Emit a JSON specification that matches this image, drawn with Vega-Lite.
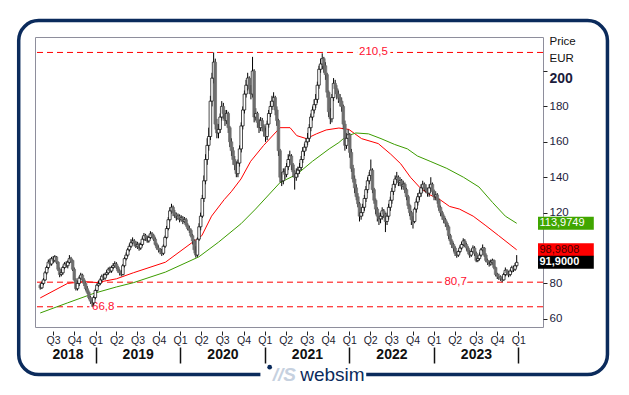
{
"$schema":"https://vega.github.io/schema/vega-lite/v6.json",
"width":508,"height":290,
"autosize":{"type":"none"},
"padding":{"left":35,"top":37,"right":86,"bottom":68},
"background":"white",
"config":{"view":{"stroke":"#8e8e9c","strokeWidth":1},"font":"Liberation Sans"},
"datasets":{
"k":[
{"d":"2018-05-07","o":79,"h":80,"l":76.5,"c":77.5},
{"d":"2018-05-14","o":77.5,"h":81,"l":76.8,"c":80},
{"d":"2018-05-21","o":80,"h":83,"l":79,"c":82},
{"d":"2018-05-28","o":82,"h":87,"l":81.5,"c":86},
{"d":"2018-06-04","o":86,"h":90,"l":85,"c":89},
{"d":"2018-06-11","o":89,"h":93.5,"l":88,"c":92},
{"d":"2018-06-18","o":92,"h":94,"l":90,"c":91},
{"d":"2018-06-25","o":91,"h":95,"l":90,"c":94},
{"d":"2018-07-02","o":94,"h":95.5,"l":91.5,"c":93},
{"d":"2018-07-09","o":93,"h":96,"l":92,"c":95},
{"d":"2018-07-16","o":95,"h":95.5,"l":91,"c":92},
{"d":"2018-07-23","o":92,"h":92.5,"l":87,"c":88},
{"d":"2018-07-30","o":88,"h":89,"l":83.5,"c":85},
{"d":"2018-08-06","o":85,"h":88,"l":84,"c":86},
{"d":"2018-08-13","o":86,"h":90,"l":85,"c":89},
{"d":"2018-08-20","o":89,"h":92,"l":88,"c":91},
{"d":"2018-08-27","o":91,"h":92.5,"l":89,"c":90},
{"d":"2018-09-03","o":90,"h":93,"l":88.5,"c":92},
{"d":"2018-09-10","o":92,"h":96,"l":91,"c":94},
{"d":"2018-09-17","o":94,"h":95,"l":91.5,"c":93},
{"d":"2018-09-24","o":93,"h":93.5,"l":87,"c":88},
{"d":"2018-10-01","o":88,"h":89,"l":81,"c":82},
{"d":"2018-10-08","o":82,"h":83,"l":76,"c":77},
{"d":"2018-10-15","o":77,"h":81.5,"l":76,"c":80},
{"d":"2018-10-22","o":80,"h":84,"l":78.5,"c":83},
{"d":"2018-10-29","o":83,"h":86,"l":82,"c":84.7},
{"d":"2018-11-05","o":84.7,"h":85.5,"l":81,"c":82},
{"d":"2018-11-12","o":82,"h":83,"l":78.5,"c":80},
{"d":"2018-11-19","o":80,"h":81,"l":76,"c":77},
{"d":"2018-11-26","o":77,"h":78.5,"l":74,"c":75},
{"d":"2018-12-03","o":75,"h":76,"l":71,"c":72},
{"d":"2018-12-10","o":72,"h":73,"l":68.5,"c":70},
{"d":"2018-12-17","o":70,"h":71,"l":66.8,"c":69},
{"d":"2018-12-24","o":69,"h":73,"l":67.5,"c":72},
{"d":"2018-12-31","o":72,"h":77,"l":71,"c":76},
{"d":"2019-01-07","o":76,"h":80,"l":75,"c":79},
{"d":"2019-01-14","o":79,"h":81.5,"l":78,"c":80},
{"d":"2019-01-21","o":80,"h":83,"l":79,"c":82},
{"d":"2019-01-28","o":82,"h":85,"l":81,"c":84},
{"d":"2019-02-04","o":84,"h":85.5,"l":82,"c":83},
{"d":"2019-02-11","o":83,"h":86,"l":82,"c":85},
{"d":"2019-02-18","o":85,"h":87.5,"l":84,"c":86},
{"d":"2019-02-25","o":86,"h":89,"l":85,"c":88},
{"d":"2019-03-04","o":88,"h":89.5,"l":86,"c":87},
{"d":"2019-03-11","o":87,"h":90,"l":86,"c":89},
{"d":"2019-03-18","o":89,"h":91.5,"l":88,"c":90},
{"d":"2019-03-25","o":90,"h":92.5,"l":89,"c":91},
{"d":"2019-04-01","o":91,"h":92,"l":88,"c":89},
{"d":"2019-04-08","o":89,"h":90,"l":86,"c":87},
{"d":"2019-04-15","o":87,"h":88,"l":84.5,"c":86},
{"d":"2019-04-22","o":86,"h":87.5,"l":84,"c":85},
{"d":"2019-04-29","o":85,"h":91,"l":84.5,"c":90},
{"d":"2019-05-06","o":90,"h":95,"l":89,"c":94},
{"d":"2019-05-13","o":94,"h":97.5,"l":93,"c":96},
{"d":"2019-05-20","o":96,"h":100,"l":95,"c":99},
{"d":"2019-05-27","o":99,"h":102.5,"l":98,"c":101},
{"d":"2019-06-03","o":101,"h":105,"l":100,"c":103},
{"d":"2019-06-10","o":103,"h":106,"l":102,"c":104},
{"d":"2019-06-17","o":104,"h":105,"l":101,"c":103},
{"d":"2019-06-24","o":103,"h":104,"l":100,"c":101},
{"d":"2019-07-01","o":101,"h":103.5,"l":99.5,"c":102},
{"d":"2019-07-08","o":102,"h":103,"l":98.5,"c":100},
{"d":"2019-07-15","o":100,"h":103,"l":99,"c":102},
{"d":"2019-07-22","o":102,"h":106.5,"l":101,"c":105},
{"d":"2019-07-29","o":105,"h":108.5,"l":104,"c":107},
{"d":"2019-08-05","o":107,"h":108,"l":104,"c":106},
{"d":"2019-08-12","o":106,"h":107,"l":103,"c":104},
{"d":"2019-08-19","o":104,"h":107,"l":103,"c":106},
{"d":"2019-08-26","o":106,"h":109.5,"l":105,"c":108},
{"d":"2019-09-02","o":108,"h":109,"l":105.5,"c":107},
{"d":"2019-09-09","o":107,"h":108,"l":104,"c":105},
{"d":"2019-09-16","o":105,"h":106,"l":101,"c":102},
{"d":"2019-09-23","o":102,"h":103,"l":99,"c":100},
{"d":"2019-09-30","o":100,"h":101.5,"l":97.5,"c":99},
{"d":"2019-10-07","o":99,"h":100,"l":96.5,"c":98},
{"d":"2019-10-14","o":98,"h":99.5,"l":95.5,"c":97},
{"d":"2019-10-21","o":97,"h":102,"l":96,"c":101},
{"d":"2019-10-28","o":101,"h":107,"l":100,"c":106},
{"d":"2019-11-04","o":106,"h":112.5,"l":105,"c":111},
{"d":"2019-11-11","o":111,"h":117.5,"l":110,"c":116},
{"d":"2019-11-18","o":116,"h":123,"l":115,"c":121},
{"d":"2019-11-25","o":121,"h":125,"l":119.5,"c":123},
{"d":"2019-12-02","o":123,"h":124,"l":118,"c":120},
{"d":"2019-12-09","o":120,"h":121.5,"l":117,"c":119},
{"d":"2019-12-16","o":119,"h":120,"l":115.5,"c":117},
{"d":"2019-12-23","o":117,"h":119.5,"l":116,"c":118},
{"d":"2019-12-30","o":118,"h":119,"l":114.5,"c":116},
{"d":"2020-01-06","o":116,"h":118.5,"l":115,"c":117},
{"d":"2020-01-13","o":117,"h":118,"l":113.5,"c":115},
{"d":"2020-01-20","o":115,"h":117.5,"l":114,"c":116},
{"d":"2020-01-27","o":116,"h":117,"l":112,"c":113},
{"d":"2020-02-03","o":113,"h":114,"l":110,"c":111},
{"d":"2020-02-10","o":111,"h":112.5,"l":108.5,"c":110},
{"d":"2020-02-17","o":110,"h":111,"l":106,"c":107},
{"d":"2020-02-24","o":107,"h":108,"l":102,"c":104},
{"d":"2020-03-02","o":104,"h":105,"l":97,"c":99},
{"d":"2020-03-09","o":99,"h":101,"l":94.6,"c":96},
{"d":"2020-03-16","o":96,"h":106,"l":95,"c":105},
{"d":"2020-03-23","o":105,"h":114,"l":104,"c":112},
{"d":"2020-03-30","o":112,"h":120,"l":110,"c":118},
{"d":"2020-04-06","o":118,"h":130,"l":117,"c":128},
{"d":"2020-04-13","o":128,"h":141,"l":126,"c":138},
{"d":"2020-04-20","o":138,"h":153,"l":136,"c":150},
{"d":"2020-04-27","o":150,"h":162,"l":147,"c":158},
{"d":"2020-05-04","o":158,"h":168,"l":155,"c":163},
{"d":"2020-05-11","o":163,"h":186,"l":161,"c":183},
{"d":"2020-05-18","o":183,"h":199,"l":180,"c":196},
{"d":"2020-05-25","o":196,"h":210.5,"l":193,"c":205},
{"d":"2020-06-01","o":205,"h":207,"l":167,"c":170},
{"d":"2020-06-08","o":170,"h":173,"l":162,"c":165},
{"d":"2020-06-15","o":165,"h":170,"l":162,"c":167},
{"d":"2020-06-22","o":167,"h":176,"l":165,"c":174},
{"d":"2020-06-29","o":174,"h":183,"l":172,"c":180},
{"d":"2020-07-06","o":180,"h":182,"l":173,"c":176},
{"d":"2020-07-13","o":176,"h":178,"l":169,"c":172},
{"d":"2020-07-20","o":172,"h":178,"l":170,"c":176},
{"d":"2020-07-27","o":176,"h":177,"l":165,"c":168},
{"d":"2020-08-03","o":168,"h":169,"l":157,"c":160},
{"d":"2020-08-10","o":160,"h":162,"l":152,"c":155},
{"d":"2020-08-17","o":155,"h":157,"l":147,"c":150},
{"d":"2020-08-24","o":150,"h":152,"l":144,"c":147},
{"d":"2020-08-31","o":147,"h":149,"l":140,"c":142},
{"d":"2020-09-07","o":142,"h":150,"l":140,"c":148},
{"d":"2020-09-14","o":148,"h":158,"l":146,"c":156},
{"d":"2020-09-21","o":156,"h":171,"l":154,"c":169},
{"d":"2020-09-28","o":169,"h":180,"l":167,"c":178},
{"d":"2020-10-05","o":178,"h":189,"l":176,"c":187},
{"d":"2020-10-12","o":187,"h":195,"l":185,"c":192},
{"d":"2020-10-19","o":192,"h":199,"l":189,"c":196},
{"d":"2020-10-26","o":196,"h":197,"l":187,"c":190},
{"d":"2020-11-02","o":190,"h":192,"l":184,"c":187},
{"d":"2020-11-09","o":187,"h":208,"l":185,"c":200},
{"d":"2020-11-16","o":200,"h":201,"l":171,"c":174},
{"d":"2020-11-23","o":174,"h":179,"l":172,"c":176},
{"d":"2020-11-30","o":176,"h":177,"l":168,"c":171},
{"d":"2020-12-07","o":171,"h":173,"l":165,"c":168},
{"d":"2020-12-14","o":168,"h":174,"l":166,"c":172},
{"d":"2020-12-21","o":172,"h":173.5,"l":166,"c":169},
{"d":"2020-12-28","o":169,"h":170,"l":163,"c":166},
{"d":"2021-01-04","o":166,"h":168,"l":160,"c":163},
{"d":"2021-01-11","o":163,"h":172,"l":161,"c":170},
{"d":"2021-01-18","o":170,"h":178,"l":168,"c":176},
{"d":"2021-01-25","o":176,"h":183,"l":174,"c":180},
{"d":"2021-02-01","o":180,"h":186,"l":178,"c":183},
{"d":"2021-02-08","o":183,"h":188,"l":180,"c":185},
{"d":"2021-02-15","o":185,"h":186,"l":175,"c":178},
{"d":"2021-02-22","o":178,"h":180,"l":169,"c":172},
{"d":"2021-03-01","o":172,"h":173,"l":152,"c":155},
{"d":"2021-03-08","o":155,"h":156,"l":137,"c":140},
{"d":"2021-03-15","o":140,"h":143,"l":135,"c":138},
{"d":"2021-03-22","o":138,"h":145,"l":136,"c":143},
{"d":"2021-03-29","o":143,"h":145,"l":139,"c":141.6},
{"d":"2021-04-05","o":141.6,"h":148,"l":140,"c":146},
{"d":"2021-04-12","o":146,"h":153,"l":144,"c":150},
{"d":"2021-04-19","o":150,"h":155,"l":148,"c":152},
{"d":"2021-04-26","o":152,"h":153,"l":144,"c":147},
{"d":"2021-05-03","o":147,"h":148,"l":140,"c":143},
{"d":"2021-05-10","o":143,"h":144,"l":133,"c":140},
{"d":"2021-05-17","o":140,"h":145,"l":138,"c":142},
{"d":"2021-05-24","o":142,"h":146,"l":140,"c":144},
{"d":"2021-05-31","o":144,"h":148,"l":142,"c":145.5},
{"d":"2021-06-07","o":145.5,"h":152,"l":144,"c":150},
{"d":"2021-06-14","o":150,"h":157,"l":148,"c":154.7},
{"d":"2021-06-21","o":154.7,"h":159,"l":152,"c":157},
{"d":"2021-06-28","o":157,"h":162,"l":155,"c":160},
{"d":"2021-07-05","o":160,"h":165,"l":158,"c":162},
{"d":"2021-07-12","o":162,"h":170,"l":160,"c":168},
{"d":"2021-07-19","o":168,"h":176,"l":166,"c":174},
{"d":"2021-07-26","o":174,"h":180,"l":172,"c":178},
{"d":"2021-08-02","o":178,"h":184,"l":176,"c":181},
{"d":"2021-08-09","o":181,"h":187,"l":179,"c":184},
{"d":"2021-08-16","o":184,"h":194,"l":182,"c":192},
{"d":"2021-08-23","o":192,"h":203,"l":190,"c":201},
{"d":"2021-08-30","o":201,"h":207,"l":199,"c":204},
{"d":"2021-09-06","o":204,"h":210,"l":201,"c":207},
{"d":"2021-09-13","o":207,"h":208,"l":199,"c":203},
{"d":"2021-09-20","o":203,"h":205,"l":195,"c":198},
{"d":"2021-09-27","o":198,"h":199,"l":185,"c":188},
{"d":"2021-10-04","o":188,"h":189,"l":174,"c":177},
{"d":"2021-10-11","o":177,"h":179,"l":170,"c":173},
{"d":"2021-10-18","o":173,"h":187,"l":171,"c":185},
{"d":"2021-10-25","o":185,"h":196,"l":183,"c":193},
{"d":"2021-11-01","o":193,"h":195,"l":187,"c":190},
{"d":"2021-11-08","o":190,"h":192,"l":184,"c":187},
{"d":"2021-11-15","o":187,"h":189,"l":182,"c":185},
{"d":"2021-11-22","o":185,"h":187,"l":180,"c":183},
{"d":"2021-11-29","o":183,"h":185,"l":177,"c":180},
{"d":"2021-12-06","o":180,"h":181,"l":167,"c":170},
{"d":"2021-12-13","o":170,"h":172,"l":155,"c":158},
{"d":"2021-12-20","o":158,"h":165,"l":156,"c":162},
{"d":"2021-12-27","o":162,"h":167,"l":160,"c":164},
{"d":"2022-01-03","o":164,"h":165,"l":151,"c":154},
{"d":"2022-01-10","o":154,"h":156,"l":143,"c":145},
{"d":"2022-01-17","o":145,"h":147,"l":137,"c":139},
{"d":"2022-01-24","o":139,"h":141,"l":131,"c":134},
{"d":"2022-01-31","o":134,"h":136,"l":127,"c":129},
{"d":"2022-02-07","o":129,"h":131,"l":123,"c":125},
{"d":"2022-02-14","o":125,"h":126,"l":115,"c":118},
{"d":"2022-02-21","o":118,"h":123,"l":116,"c":120},
{"d":"2022-02-28","o":120,"h":125,"l":118,"c":123},
{"d":"2022-03-07","o":123,"h":130,"l":121,"c":128},
{"d":"2022-03-14","o":128,"h":135,"l":126,"c":133},
{"d":"2022-03-21","o":133,"h":140,"l":131,"c":138},
{"d":"2022-03-28","o":138,"h":143,"l":136,"c":141},
{"d":"2022-04-04","o":141,"h":150,"l":139,"c":144},
{"d":"2022-04-11","o":144,"h":145,"l":131,"c":133},
{"d":"2022-04-18","o":133,"h":134,"l":125,"c":127},
{"d":"2022-04-25","o":127,"h":128,"l":119,"c":122},
{"d":"2022-05-02","o":122,"h":123,"l":115,"c":118},
{"d":"2022-05-09","o":118,"h":120,"l":113,"c":116.5},
{"d":"2022-05-16","o":116.5,"h":120,"l":114,"c":118},
{"d":"2022-05-23","o":118,"h":123,"l":116,"c":121},
{"d":"2022-05-30","o":121,"h":122,"l":117,"c":119},
{"d":"2022-06-06","o":119,"h":120,"l":109,"c":115},
{"d":"2022-06-13","o":115,"h":120,"l":113,"c":118},
{"d":"2022-06-20","o":118,"h":125,"l":116,"c":123},
{"d":"2022-06-27","o":123,"h":129,"l":121,"c":127},
{"d":"2022-07-04","o":127,"h":134,"l":125,"c":132},
{"d":"2022-07-11","o":132,"h":138,"l":130,"c":136},
{"d":"2022-07-18","o":136,"h":141,"l":134,"c":139},
{"d":"2022-07-25","o":139,"h":143,"l":137,"c":140},
{"d":"2022-08-01","o":140,"h":141,"l":135,"c":137},
{"d":"2022-08-08","o":137,"h":140,"l":135,"c":138},
{"d":"2022-08-15","o":138,"h":139,"l":133,"c":135},
{"d":"2022-08-22","o":135,"h":138,"l":133,"c":136},
{"d":"2022-08-29","o":136,"h":137,"l":131,"c":133},
{"d":"2022-09-05","o":133,"h":134,"l":127,"c":129},
{"d":"2022-09-12","o":129,"h":130,"l":122,"c":124},
{"d":"2022-09-19","o":124,"h":125,"l":118,"c":120},
{"d":"2022-09-26","o":120,"h":121,"l":113,"c":116},
{"d":"2022-10-03","o":116,"h":118,"l":111,"c":115},
{"d":"2022-10-10","o":115,"h":123,"l":114,"c":122},
{"d":"2022-10-17","o":122,"h":128,"l":120,"c":126},
{"d":"2022-10-24","o":126,"h":131,"l":124,"c":129},
{"d":"2022-10-31","o":129,"h":133,"l":127,"c":131},
{"d":"2022-11-07","o":131,"h":136,"l":129,"c":134},
{"d":"2022-11-14","o":134,"h":138,"l":132,"c":136},
{"d":"2022-11-21","o":136,"h":137,"l":132,"c":134},
{"d":"2022-11-28","o":134,"h":136,"l":131,"c":133},
{"d":"2022-12-05","o":133,"h":134,"l":129,"c":131},
{"d":"2022-12-12","o":131,"h":136,"l":129,"c":134},
{"d":"2022-12-19","o":134,"h":140,"l":132,"c":136},
{"d":"2022-12-26","o":136,"h":137,"l":130,"c":132},
{"d":"2023-01-02","o":132,"h":133,"l":127,"c":129},
{"d":"2023-01-09","o":129,"h":132,"l":127,"c":130},
{"d":"2023-01-16","o":130,"h":131,"l":125,"c":127},
{"d":"2023-01-23","o":127,"h":128,"l":121,"c":123},
{"d":"2023-01-30","o":123,"h":124,"l":118,"c":120},
{"d":"2023-02-06","o":120,"h":121,"l":116,"c":118},
{"d":"2023-02-13","o":118,"h":119,"l":114,"c":116},
{"d":"2023-02-20","o":116,"h":117,"l":112,"c":114},
{"d":"2023-02-27","o":114,"h":115,"l":110,"c":112},
{"d":"2023-03-06","o":112,"h":113,"l":105,"c":107},
{"d":"2023-03-13","o":107,"h":108,"l":102,"c":104},
{"d":"2023-03-20","o":104,"h":105,"l":100,"c":102},
{"d":"2023-03-27","o":102,"h":103,"l":98,"c":100},
{"d":"2023-04-03","o":100,"h":101,"l":95.5,"c":97},
{"d":"2023-04-10","o":97,"h":98,"l":94.5,"c":96},
{"d":"2023-04-17","o":96,"h":99,"l":95,"c":98},
{"d":"2023-04-24","o":98,"h":101.5,"l":97,"c":100},
{"d":"2023-05-01","o":100,"h":103.5,"l":99,"c":102},
{"d":"2023-05-08","o":102,"h":105.5,"l":101,"c":104},
{"d":"2023-05-15","o":104,"h":105,"l":100.5,"c":102},
{"d":"2023-05-22","o":102,"h":103,"l":98.5,"c":100},
{"d":"2023-05-29","o":100,"h":101,"l":96.5,"c":98},
{"d":"2023-06-05","o":98,"h":99,"l":94.5,"c":96},
{"d":"2023-06-12","o":96,"h":99.5,"l":95,"c":98},
{"d":"2023-06-19","o":98,"h":101.5,"l":97,"c":100},
{"d":"2023-06-26","o":100,"h":101,"l":95.5,"c":97},
{"d":"2023-07-03","o":97,"h":98,"l":92,"c":93},
{"d":"2023-07-10","o":93,"h":95.5,"l":92,"c":94},
{"d":"2023-07-17","o":94,"h":97.5,"l":93,"c":96},
{"d":"2023-07-24","o":96,"h":100,"l":95,"c":99},
{"d":"2023-07-31","o":99,"h":102,"l":98,"c":100},
{"d":"2023-08-07","o":100,"h":100.5,"l":95,"c":96},
{"d":"2023-08-14","o":96,"h":97,"l":92,"c":93},
{"d":"2023-08-21","o":93,"h":94,"l":90.5,"c":92},
{"d":"2023-08-28","o":92,"h":93,"l":89.5,"c":91},
{"d":"2023-09-04","o":91,"h":93.5,"l":90,"c":92},
{"d":"2023-09-11","o":92,"h":94,"l":90.5,"c":93},
{"d":"2023-09-18","o":93,"h":93.5,"l":88,"c":89},
{"d":"2023-09-25","o":89,"h":89.5,"l":84,"c":85},
{"d":"2023-10-02","o":85,"h":86,"l":82.5,"c":84},
{"d":"2023-10-09","o":84,"h":85.5,"l":82,"c":83.7},
{"d":"2023-10-16","o":83.7,"h":84.5,"l":81.5,"c":83},
{"d":"2023-10-23","o":83,"h":84,"l":80.7,"c":82},
{"d":"2023-10-30","o":82,"h":86,"l":81.5,"c":85},
{"d":"2023-11-06","o":85,"h":89,"l":84,"c":87.4},
{"d":"2023-11-13","o":87.4,"h":88,"l":84.5,"c":86},
{"d":"2023-11-20","o":86,"h":87,"l":83.5,"c":85},
{"d":"2023-11-27","o":85,"h":88,"l":84,"c":87},
{"d":"2023-12-04","o":87,"h":90,"l":86,"c":89},
{"d":"2023-12-11","o":89,"h":90,"l":86.5,"c":88},
{"d":"2023-12-18","o":88,"h":91.5,"l":87,"c":90},
{"d":"2023-12-25","o":90,"h":96,"l":89,"c":91.9}
],
"ma":[
{"s":"r","d":"2018-05-07","v":71.8},{"s":"r","d":"2018-09-02","v":80},{"s":"r","d":"2018-11-12","v":81},{"s":"r","d":"2019-01-07","v":80.5},{"s":"r","d":"2019-04-01","v":82.6},{"s":"r","d":"2019-06-13","v":86},{"s":"r","d":"2019-10-30","v":92},{"s":"r","d":"2020-02-21","v":103},{"s":"r","d":"2020-04-04","v":107},{"s":"r","d":"2020-05-16","v":118},{"s":"r","d":"2020-07-10","v":127.4},{"s":"r","d":"2020-08-09","v":131.8},{"s":"r","d":"2020-09-20","v":139},{"s":"r","d":"2020-11-01","v":149},{"s":"r","d":"2020-12-27","v":158},{"s":"r","d":"2021-03-08","v":168},{"s":"r","d":"2021-04-20","v":168},{"s":"r","d":"2021-05-19","v":163.5},{"s":"r","d":"2021-06-30","v":161.8},{"s":"r","d":"2021-08-12","v":164.5},{"s":"r","d":"2021-09-23","v":166.7},{"s":"r","d":"2021-11-17","v":167.8},{"s":"r","d":"2021-12-30","v":167},{"s":"r","d":"2022-02-23","v":161.8},{"s":"r","d":"2022-05-06","v":159},{"s":"r","d":"2022-06-29","v":153},{"s":"r","d":"2022-08-11","v":147.6},{"s":"r","d":"2022-09-22","v":140},{"s":"r","d":"2022-11-03","v":134},{"s":"r","d":"2022-12-16","v":130},{"s":"r","d":"2023-01-27","v":127.4},{"s":"r","d":"2023-03-10","v":123.5},{"s":"r","d":"2023-04-22","v":122},{"s":"r","d":"2023-06-20","v":118},{"s":"r","d":"2023-08-14","v":112.6},{"s":"r","d":"2023-10-08","v":107},{"s":"r","d":"2023-12-25","v":98.98},
{"s":"g","d":"2018-05-07","v":63.3},{"s":"g","d":"2018-09-02","v":69},{"s":"g","d":"2018-12-25","v":74.4},{"s":"g","d":"2019-04-01","v":78},{"s":"g","d":"2019-06-13","v":80.4},{"s":"g","d":"2019-10-30","v":86.4},{"s":"g","d":"2020-03-22","v":95},{"s":"g","d":"2020-06-15","v":103.3},{"s":"g","d":"2020-09-20","v":113.7},{"s":"g","d":"2020-11-22","v":122},{"s":"g","d":"2021-03-08","v":137},{"s":"g","d":"2021-05-19","v":141.6},{"s":"g","d":"2021-07-26","v":149},{"s":"g","d":"2021-10-06","v":156},{"s":"g","d":"2021-11-17","v":159.6},{"s":"g","d":"2021-12-17","v":163},{"s":"g","d":"2022-01-29","v":165},{"s":"g","d":"2022-03-25","v":164.5},{"s":"g","d":"2022-05-18","v":161.8},{"s":"g","d":"2022-07-16","v":158.5},{"s":"g","d":"2022-09-09","v":156},{"s":"g","d":"2022-10-22","v":152},{"s":"g","d":"2022-12-16","v":149},{"s":"g","d":"2023-02-26","v":145},{"s":"g","d":"2023-05-09","v":140},{"s":"g","d":"2023-07-15","v":134.5},{"s":"g","d":"2023-09-12","v":125.7},{"s":"g","d":"2023-11-06","v":118},{"s":"g","d":"2023-12-25","v":113.97}
],
"hl":[{"v":210.5,"t":"210,5","at":"2022-04-15"},{"v":80.7,"t":"80,7","at":"2023-04-05"},{"v":66.8,"t":"66,8","at":"2019-02-03"}],
"px":[{"s":"g","v":113.9749,"t":"113,9749"},{"s":"r","v":98.9808,"t":"98,9808"},{"s":"k","v":91.9,"t":"91,9000"}]
},
"layer":[
{"data":{"values":[{}]},"mark":{"type":"rect","fill":"white","fillOpacity":0,"stroke":"#0b2b5c","strokeWidth":3.5,"cornerRadius":20},
 "encoding":{"x":{"datum":{"year":2018,"month":2,"date":3},"type":"temporal","scale":{"type":"time","domain":[{"year":2018,"month":5,"date":6},{"year":2024,"month":3,"date":26}]},"axis":null},"x2":{"datum":{"year":2025,"month":1,"date":20}},
 "y":{"datum":228.5,"type":"quantitative","scale":{"domain":[58.2,216.4],"nice":false,"zero":false},"axis":null},"y2":{"datum":28.5}}},
{"data":{"values":[{}]},"mark":{"type":"rect","fill":"white"},
 "encoding":{"x":{"datum":{"year":2020,"month":12,"date":13},"type":"temporal","scale":{"type":"time","domain":[{"year":2018,"month":5,"date":6},{"year":2024,"month":3,"date":26}]},"axis":null},"x2":{"datum":{"year":2022,"month":3,"date":15}},
 "y":{"datum":31.5,"type":"quantitative","scale":{"domain":[58.2,216.4],"nice":false,"zero":false},"axis":null},"y2":{"datum":24}}},
{"data":{"values":[{}]},"mark":{"type":"point","filled":true,"color":"#0b2b5c","size":22,"opacity":1},
 "encoding":{"x":{"datum":{"year":2021,"month":1,"date":22},"type":"temporal","scale":{"type":"time","domain":[{"year":2018,"month":5,"date":6},{"year":2024,"month":3,"date":26}]},"axis":null},
 "y":{"datum":32.7,"type":"quantitative","scale":{"domain":[58.2,216.4],"nice":false,"zero":false},"axis":null}}},
{"data":{"values":[{}]},"mark":{"type":"text","text":"//S","font":"Liberation Sans","fontSize":19,"fontWeight":"bold","fontStyle":"italic","fill":"#c6d1df","align":"center","baseline":"alphabetic"},
 "encoding":{"x":{"datum":{"year":2021,"month":3,"date":26},"type":"temporal","scale":{"type":"time","domain":[{"year":2018,"month":5,"date":6},{"year":2024,"month":3,"date":26}]},"axis":null},
 "y":{"datum":24.6,"type":"quantitative","scale":{"domain":[58.2,216.4],"nice":false,"zero":false},"axis":null}}},
{"data":{"values":[{}]},"mark":{"type":"text","text":"websim","font":"Liberation Sans","fontSize":19,"fill":"#0b2b5c","align":"center","baseline":"alphabetic"},
 "encoding":{"x":{"datum":{"year":2021,"month":10,"date":20},"type":"temporal","scale":{"type":"time","domain":[{"year":2018,"month":5,"date":6},{"year":2024,"month":3,"date":26}]},"axis":null},
 "y":{"datum":24.6,"type":"quantitative","scale":{"domain":[58.2,216.4],"nice":false,"zero":false},"axis":null}}},
{"data":{"name":"hl"},"mark":{"type":"rule","color":"#ff0000","strokeWidth":1,"strokeDash":[6,4]},
 "encoding":{"y":{"field":"v","type":"quantitative","scale":{"domain":[58.2,216.4],"nice":false,"zero":false},"axis":null}}},
{"data":{"name":"hl"},"mark":{"type":"text","fontSize":11.5,"fill":"white","stroke":"white","strokeWidth":6,"strokeJoin":"round","align":"center","baseline":"middle"},
 "encoding":{"x":{"field":"at","type":"temporal","scale":{"type":"time","domain":[{"year":2018,"month":5,"date":6},{"year":2024,"month":3,"date":26}]},"axis":null},
 "y":{"field":"v","type":"quantitative","scale":{"domain":[58.2,216.4],"nice":false,"zero":false},"axis":null},"text":{"field":"t"}}},
{"data":{"name":"hl"},"mark":{"type":"text","fontSize":11.5,"fill":"#ff1030","align":"center","baseline":"middle"},
 "encoding":{"x":{"field":"at","type":"temporal","scale":{"type":"time","domain":[{"year":2018,"month":5,"date":6},{"year":2024,"month":3,"date":26}]},"axis":null},
 "y":{"field":"v","type":"quantitative","scale":{"domain":[58.2,216.4],"nice":false,"zero":false},"axis":null},"text":{"field":"t"}}},
{"data":{"name":"ma"},"mark":{"type":"line","strokeWidth":1},
 "encoding":{"x":{"field":"d","type":"temporal","scale":{"type":"time","domain":[{"year":2018,"month":5,"date":6},{"year":2024,"month":3,"date":26}]},
   "axis":{"orient":"bottom","values":[{"year":2019,"month":1,"date":1},{"year":2020,"month":1,"date":1},{"year":2021,"month":1,"date":1},{"year":2022,"month":1,"date":1},{"year":2023,"month":1,"date":1},{"year":2024,"month":1,"date":1}],"labels":false,"domain":false,"grid":false,"ticks":true,"tickSize":16,"tickWidth":1.5,"tickColor":"#111111","offset":20,"title":null}},
 "y":{"field":"v","type":"quantitative","scale":{"domain":[58.2,216.4],"nice":false,"zero":false},"axis":null},
 "color":{"field":"s","type":"nominal","scale":{"domain":["g","r"],"range":["#3c9c00","#ff0000"]},"legend":null}}},
{"data":{"name":"k"},"mark":{"type":"rule","color":"#000000","strokeWidth":1},
 "encoding":{"x":{"field":"d","type":"temporal","scale":{"type":"time","domain":[{"year":2018,"month":5,"date":6},{"year":2024,"month":3,"date":26}]},
   "axis":{"orient":"bottom","values":[{"year":2018,"month":9,"date":2},{"year":2019,"month":7,"date":2},{"year":2020,"month":7,"date":2},{"year":2021,"month":7,"date":2},{"year":2022,"month":7,"date":2},{"year":2023,"month":7,"date":2}],"format":"%Y","ticks":false,"tickSize":0,"domain":false,"grid":false,"offset":20,"labelPadding":0,"labelFontSize":14,"labelFontWeight":"bold","labelColor":"#111111","labelFont":"Liberation Sans","labelFlush":false,"labelOverlap":false,"title":null}},
 "y":{"field":"l","type":"quantitative","scale":{"domain":[58.2,216.4],"nice":false,"zero":false},"axis":null},"y2":{"field":"h"}}},
{"data":{"name":"k"},"mark":{"type":"bar","size":2.6,"strokeWidth":0.7},
 "encoding":{"x":{"field":"d","type":"temporal","scale":{"type":"time","domain":[{"year":2018,"month":5,"date":6},{"year":2024,"month":3,"date":26}]},
   "axis":{"orient":"bottom","values":[{"year":2018,"month":7,"date":1},{"year":2018,"month":10,"date":1},{"year":2019,"month":1,"date":1},{"year":2019,"month":4,"date":1},{"year":2019,"month":7,"date":1},{"year":2019,"month":10,"date":1},{"year":2020,"month":1,"date":1},{"year":2020,"month":4,"date":1},{"year":2020,"month":7,"date":1},{"year":2020,"month":10,"date":1},{"year":2021,"month":1,"date":1},{"year":2021,"month":4,"date":1},{"year":2021,"month":7,"date":1},{"year":2021,"month":10,"date":1},{"year":2022,"month":1,"date":1},{"year":2022,"month":4,"date":1},{"year":2022,"month":7,"date":1},{"year":2022,"month":10,"date":1},{"year":2023,"month":1,"date":1},{"year":2023,"month":4,"date":1},{"year":2023,"month":7,"date":1},{"year":2023,"month":10,"date":1},{"year":2024,"month":1,"date":1}],
   "labelExpr":"'Q' + quarter(datum.value)","domain":false,"grid":false,"ticks":true,"tickSize":4,"tickColor":"#222222","offset":4,"labelPadding":0,"labelFontSize":10.5,"labelColor":"#1c1c30","labelFont":"Liberation Sans","labelFlush":false,"labelOverlap":false,"title":null}},
 "y":{"field":"o","type":"quantitative","scale":{"domain":[58.2,216.4],"nice":false,"zero":false},
   "axis":{"orient":"right","values":[60,80,120,140,160,180,200],"domain":false,"grid":false,"tickSize":4,"tickColor":"#222222","labelPadding":2,"labelFont":"Liberation Sans","labelColor":"#1c1c3c","labelFontSize":{"condition":{"test":"datum.value == 200","value":14},"value":11.5},"labelFontWeight":{"condition":{"test":"datum.value == 200","value":"bold"},"value":"normal"},"labelBaseline":{"condition":{"test":"datum.value == 200","value":"top"},"value":"middle"},"labelFlush":false,"labelOverlap":false,
   "title":["Price","EUR"],"titleAngle":0,"titleAlign":"left","titleBaseline":"top","titleX":6,"titleY":-2,"titleFont":"Liberation Sans","titleFontSize":11.5,"titleFontWeight":"normal","titleColor":"#111111","titleLineHeight":17}},
 "y2":{"field":"c"},
 "fill":{"condition":{"test":"datum.c >= datum.o","value":"white"},"value":"#6e6e6e"},
 "stroke":{"condition":{"test":"datum.c >= datum.o","value":"#000000"},"value":"#6e6e6e"}}},
{"data":{"name":"px"},"mark":{"type":"bar","size":13},
 "encoding":{"x":{"datum":{"year":2024,"month":3,"date":26},"type":"temporal","scale":{"type":"time","domain":[{"year":2018,"month":5,"date":6},{"year":2024,"month":3,"date":26}]},"axis":null},"x2":{"datum":{"year":2024,"month":11,"date":22}},
 "y":{"field":"v","type":"quantitative","scale":{"domain":[58.2,216.4],"nice":false,"zero":false},"axis":null},
 "color":{"field":"s","type":"nominal","scale":{"domain":["g","r","k"],"range":["#40a600","#ff0000","#000000"]},"legend":null}}},
{"data":{"name":"px"},"transform":[{"filter":"datum.s != 'k'"}],"mark":{"type":"text","fontSize":11,"align":"left","baseline":"middle","dx":1.5,"font":"Liberation Sans"},
 "encoding":{"x":{"datum":{"year":2024,"month":3,"date":26},"type":"temporal","scale":{"type":"time","domain":[{"year":2018,"month":5,"date":6},{"year":2024,"month":3,"date":26}]},"axis":null},
 "y":{"field":"v","type":"quantitative","scale":{"domain":[58.2,216.4],"nice":false,"zero":false},"axis":null},"text":{"field":"t"},
 "color":{"field":"s","type":"nominal","scale":{"domain":["g","r"],"range":["#ffffff","#4a0000"]},"legend":null}}},
{"data":{"name":"px"},"transform":[{"filter":"datum.s == 'k'"}],"mark":{"type":"text","fontSize":11,"fontWeight":"bold","fill":"white","align":"left","baseline":"middle","dx":1.5,"font":"Liberation Sans"},
 "encoding":{"x":{"datum":{"year":2024,"month":3,"date":26},"type":"temporal","scale":{"type":"time","domain":[{"year":2018,"month":5,"date":6},{"year":2024,"month":3,"date":26}]},"axis":null},
 "y":{"field":"v","type":"quantitative","scale":{"domain":[58.2,216.4],"nice":false,"zero":false},"axis":null},"text":{"field":"t"}}}
],
"resolve":{"axis":{"x":"independent","y":"independent"},"scale":{"color":"independent"}}
}
